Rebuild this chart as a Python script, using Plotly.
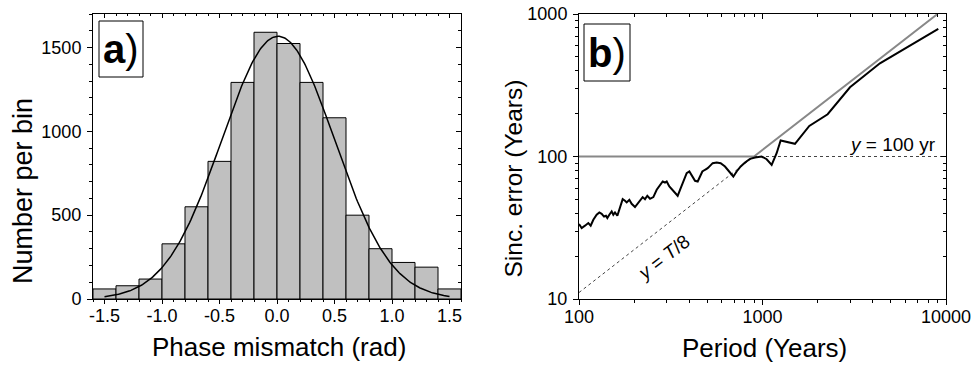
import numpy as np
import plotly.graph_objects as go

# ---------------- data: panel a) histogram ----------------
bin_centers = [-1.5, -1.3, -1.1, -0.9, -0.7, -0.5, -0.3, -0.1,
               0.1, 0.3, 0.5, 0.7, 0.9, 1.1, 1.3, 1.5]
bin_counts = [60, 79, 119, 329, 550, 821, 1292, 1591,
              1524, 1292, 1081, 500, 300, 218, 190, 60]
bin_width = 0.2

# Gaussian fit parameters
gauss_amplitude = 1567
gauss_center = 0.01
gauss_sigma = 0.49
gauss_range = [-1.5, 1.5]

a_xtick_vals = [-1.5, -1.0, -0.5, 0.0, 0.5, 1.0, 1.5]
a_xtick_text = ["-1.5", "-1.0", "-0.5", "0.0", "0.5", "1.0", "1.5"]
a_ytick_vals = [0, 500, 1000, 1500]
a_ytick_text = ["0", "500", "1000", "1500"]

# ---------------- data: panel b) ----------------
period = [100, 103.4, 107.8, 112.4, 115.8, 119.7, 124.8, 129.1, 132.9, 136.9,
          140.3, 142.7, 146.3, 150.7, 153.8, 157.1, 161.8, 167.3, 173.0, 178.1,
          181.9, 188.1, 193.6, 201.9, 207.9, 215.0, 222.3, 228.9, 235.7, 243.8,
          254.2, 265.1, 276.4, 285.8, 294.3, 300.5, 310.7, 326.7, 344.9, 355.2,
          370.4, 386.2, 399.4, 411.2, 428.8, 443.4, 456.5, 470.1, 486.1, 502.7,
          517.6, 535.2, 562.7, 591.6, 624.6, 659.6, 693.6, 723.2, 760.4, 802.9,
          855.1, 910.4, 989.5, 1054, 1122, 1194, 1256, 1503, 1799, 2265,
          2998, 4365, 9078]
sinc_error = [33.6, 31.5, 32.7, 34.1, 32.7, 36.0, 39.0, 40.5, 39.6, 37.9,
              38.4, 37.0, 39.0, 41.2, 39.0, 40.5, 38.4, 43.4, 50.2, 48.9,
              47.6, 49.7, 46.6, 44.2, 46.6, 48.9, 51.9, 50.2, 53.0, 50.5,
              51.9, 58.4, 63.2, 66.8, 65.7, 66.8, 61.6, 56.9, 53.0, 58.4,
              67.9, 76.4, 78.5, 74.4, 67.5, 66.8, 71.6, 78.5, 80.7, 82.8,
              86.0, 89.8, 90.8, 89.8, 85.1, 78.5, 72.4, 78.5, 85.1, 90.8,
              96.3, 98.4, 100.0, 95.7, 87.4, 105.4, 129.4, 122.7, 164, 198,
              306, 451, 785]

limit_x = [100, 899, 8990]
limit_y = [100, 100, 1000]
t8_x = [100, 899]
t8_y = [11.1, 100]
h100_x = [899, 10000]
h100_y = [100, 100]

b_xtick_vals = [100, 1000, 10000]
b_xtick_text = ["100", "1000", "10000"]
b_xminor_vals = [200, 300, 400, 500, 600, 700, 800, 900,
                 2000, 3000, 4000, 5000, 6000, 7000, 8000, 9000]
b_ytick_vals = [10, 100, 1000]
b_ytick_text = ["10", "100", "1000"]
b_yminor_vals = [20, 30, 40, 50, 60, 70, 80, 90,
                 200, 300, 400, 500, 600, 700, 800, 900]

# ---------------- figure ----------------
# the page body margin is removed in post_script, so the figure fills the window
W, H = 975, 370
FONT = "Liberation Sans, Arial, sans-serif"

def px(x):
    return x / W

def py(y):
    return 1 - y / H

xa_dom = [px(93), px(461)]
xb_dom = [px(579), px(946)]
y_dom = [py(299), py(14)]

fig = go.Figure()

fig.add_trace(go.Bar(x=bin_centers, y=bin_counts, width=bin_width,
                     marker=dict(color="#c0c0c0", line=dict(color="black", width=1)),
                     xaxis="x", yaxis="y", showlegend=False))

gx = np.linspace(gauss_range[0], gauss_range[1], 301)
gy = gauss_amplitude * np.exp(-(gx - gauss_center) ** 2 / (2 * gauss_sigma ** 2))
fig.add_trace(go.Scatter(x=gx, y=gy, mode="lines", line=dict(color="black", width=1.5),
                         xaxis="x", yaxis="y", showlegend=False))

# panel b
fig.add_trace(go.Scatter(x=t8_x, y=t8_y, mode="lines",
                         line=dict(color="#444444", width=1, dash="dot"),
                         xaxis="x2", yaxis="y2", showlegend=False))
fig.add_trace(go.Scatter(x=h100_x, y=h100_y, mode="lines",
                         line=dict(color="#444444", width=1, dash="dot"),
                         xaxis="x2", yaxis="y2", showlegend=False))
fig.add_trace(go.Scatter(x=limit_x, y=limit_y, mode="lines",
                         line=dict(color="#888888", width=2),
                         xaxis="x2", yaxis="y2", showlegend=False))
fig.add_trace(go.Scatter(x=period, y=sinc_error, mode="lines",
                         line=dict(color="black", width=2),
                         xaxis="x2", yaxis="y2", showlegend=False))

# empty traces to register mirror axes
for xa, ya in [("x3", "y"), ("x", "y3"), ("x4", "y2"), ("x2", "y4")]:
    fig.add_trace(go.Scatter(x=[], y=[], xaxis=xa, yaxis=ya, showlegend=False,
                             hoverinfo="skip"))

tickfont = dict(family=FONT, size=18, color="black")
common = dict(showgrid=False, zeroline=False, tickcolor="black", tickwidth=1,
              tickfont=tickfont, automargin=False, ticklabeloverflow="allow")

fig.update_layout(
    width=W, height=H, margin=dict(l=0, r=0, t=0, b=0, autoexpand=False),
    paper_bgcolor="white", plot_bgcolor="white", showlegend=False,
    font=dict(family=FONT, color="black"),
    xaxis=dict(domain=xa_dom, range=[-1.6, 1.6], anchor="y",
               showline=True, linecolor="black", linewidth=1, mirror=True,
               ticks="outside", ticklen=4, tickmode="array",
               tickvals=a_xtick_vals, ticktext=a_xtick_text, ticklabelstandoff=-4,
               minor=dict(dtick=0.1, tick0=0, ticks="outside", ticklen=2,
                          tickcolor="black"), **common),
    yaxis=dict(domain=y_dom, range=[0, 1700], anchor="x",
               showline=True, linecolor="black", linewidth=1, mirror=True,
               ticks="outside", ticklen=5, tickmode="array",
               tickvals=a_ytick_vals, ticktext=a_ytick_text, ticklabelstandoff=2,
               minor=dict(dtick=100, tick0=0, ticks="outside", ticklen=3,
                          tickcolor="black"), **common),
    xaxis3=dict(overlaying="x", side="top", anchor="y", range=[-1.6, 1.6],
                ticks="inside", ticklen=4, tickmode="array",
                tickvals=a_xtick_vals, showticklabels=False, showline=False,
                minor=dict(dtick=0.1, tick0=0, ticks="inside", ticklen=2,
                           tickcolor="black"), **common),
    yaxis3=dict(overlaying="y", side="right", anchor="x", range=[0, 1700],
                ticks="inside", ticklen=5, tickmode="array",
                tickvals=a_ytick_vals, showticklabels=False, showline=False,
                minor=dict(dtick=100, tick0=0, ticks="inside", ticklen=3,
                           tickcolor="black"), **common),
    xaxis2=dict(domain=xb_dom, type="log", range=[2, 4], anchor="y2",
                showline=True, linecolor="black", linewidth=1, mirror=True,
                ticks="outside", ticklen=5, tickmode="array",
                tickvals=b_xtick_vals, ticktext=b_xtick_text, ticklabelstandoff=-4,
                minor=dict(tickmode="array", tickvals=b_xminor_vals,
                           ticks="outside", ticklen=3, tickcolor="black"),
                **common),
    yaxis2=dict(domain=y_dom, type="log", range=[1, 3], anchor="x2",
                showline=True, linecolor="black", linewidth=1, mirror=True,
                ticks="outside", ticklen=5, tickmode="array",
                tickvals=b_ytick_vals, ticktext=b_ytick_text, ticklabelstandoff=2,
                minor=dict(tickmode="array", tickvals=b_yminor_vals,
                           ticks="outside", ticklen=3, tickcolor="black"),
                **common),
    xaxis4=dict(overlaying="x2", side="top", anchor="y2", type="log", range=[2, 4],
                ticks="inside", ticklen=5, tickmode="array",
                tickvals=b_xtick_vals, showticklabels=False, showline=False,
                minor=dict(tickmode="array", tickvals=b_xminor_vals,
                           ticks="inside", ticklen=3, tickcolor="black"),
                **common),
    yaxis4=dict(overlaying="y2", side="right", anchor="x2", type="log", range=[1, 3],
                ticks="inside", ticklen=5, tickmode="array",
                tickvals=b_ytick_vals, showticklabels=False, showline=False,
                minor=dict(tickmode="array", tickvals=b_yminor_vals,
                           ticks="inside", ticklen=3, tickcolor="black"),
                **common),
)

ann = [
    dict(text="Number per bin", x=px(23), y=py(191), textangle=-90,
         font=dict(family=FONT, size=27, color="black")),
    dict(text="Phase mismatch (rad)", x=px(278.5), y=py(347),
         font=dict(family=FONT, size=26, color="black")),
    dict(text="Sinc. error (Years)", x=px(513), y=py(178.5), textangle=-90,
         font=dict(family=FONT, size=24.5, color="black")),
    dict(text="Period (Years)", x=px(764), y=py(348),
         font=dict(family=FONT, size=26, color="black")),
    dict(text="<b>a</b>)", x=px(121), y=py(49), font=dict(family=FONT, size=40, color="black")),
    dict(text="<b>b</b>)", x=px(607), y=py(52.5), font=dict(family=FONT, size=40, color="black")),
]
for a in ann:
    a.update(xref="paper", yref="paper", showarrow=False, xanchor="center", yanchor="middle")

ann.append(dict(text="<i>y</i> = 100 yr", x=np.log10(9040), y=2.0, xref="x2", yref="y2",
                xanchor="right", yanchor="bottom", showarrow=False,
                font=dict(family=FONT, size=19, color="black")))
ann.append(dict(text="<i>y</i> = <i>T</i>/8", x=2.4595, y=1.292, xref="x2", yref="y2",
                xanchor="center", yanchor="middle", textangle=-38, showarrow=False,
                font=dict(family=FONT, size=19, color="black")))
fig.update_layout(annotations=ann)

shapes = [
    dict(type="rect", xref="paper", yref="paper", x0=px(99), x1=px(143), y0=py(77), y1=py(21),
         line=dict(color="black", width=1), fillcolor="white"),
    dict(type="rect", xref="paper", yref="paper", x0=px(584), x1=px(630), y0=py(81), y1=py(24),
         line=dict(color="black", width=1), fillcolor="white"),
]
fig.update_layout(shapes=shapes)

fig.write_html("out.html", config={"displayModeBar": False},
               post_script="document.body.style.margin='0px';")
